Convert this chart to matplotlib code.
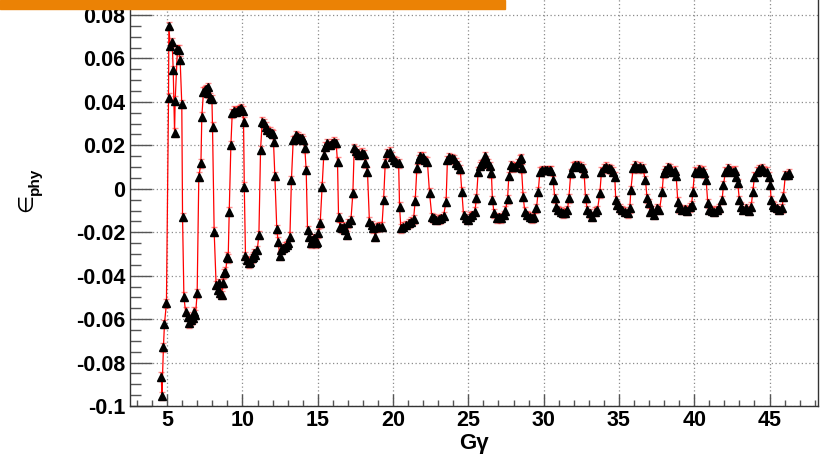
import matplotlib
matplotlib.use("Agg")
import matplotlib.pyplot as plt
from matplotlib.patches import Rectangle
from matplotlib.ticker import MultipleLocator

plt.rcParams["font.family"] = ["Liberation Sans", "DejaVu Sans"]
plt.rcParams["font.weight"] = "bold"

# G*gamma for each measurement
gg = [4.61, 4.65, 4.75, 4.82, 4.95, 5.09, 5.11, 5.20, 5.33, 5.40, 5.49, 5.53, 5.68, 5.77, 5.86, 5.97,
      6.02, 6.11, 6.22, 6.35, 6.46, 6.59, 6.72, 6.79, 6.88, 6.99,
      7.10, 7.24, 7.30, 7.41, 7.48, 7.59, 7.68, 7.74, 7.86, 7.97, 8.01,
      8.12, 8.25, 8.37, 8.45, 8.52, 8.61, 8.70, 8.78, 8.87, 9.00, 9.05, 9.12,
      9.23, 9.32, 9.45, 9.60, 9.71, 9.85, 9.93, 10.03, 10.07, 10.12,
      10.20, 10.33, 10.42, 10.51, 10.60, 10.69, 10.78, 10.86, 10.98, 11.09,
      11.20, 11.31, 11.44, 11.53, 11.66, 11.80, 11.93, 12.02, 12.06, 12.15,
      12.28, 12.37, 12.48, 12.59, 12.70, 12.81, 12.95, 13.03, 13.15,
      13.25, 13.37, 13.48, 13.58, 13.70, 13.81, 13.92, 14.03, 14.14, 14.23,
      14.32, 14.43, 14.52, 14.63, 14.76, 14.85, 14.96, 15.03, 15.16,
      15.29, 15.40, 15.51, 15.64, 15.80, 15.96, 16.09, 16.22, 16.31,
      16.38, 16.49, 16.60, 16.71, 16.82, 16.93, 17.04, 17.20,
      17.33, 17.42, 17.55, 17.66, 17.77, 17.93, 18.04, 18.15, 18.30,
      18.43, 18.59, 18.70, 18.81, 18.93, 19.08, 19.26,
      19.37, 19.48, 19.63, 19.81, 19.92, 20.03, 20.21, 20.37,
      20.43, 20.52, 20.69, 20.87, 21.03, 21.18, 21.36,
      21.47, 21.58, 21.69, 21.80, 21.98, 22.13, 22.28,
      22.42, 22.58, 22.69, 22.87, 23.02, 23.18, 23.35,
      23.52, 23.61, 23.74, 23.90, 24.06, 24.19, 24.34, 24.46,
      24.57, 24.68, 24.85, 25.00, 25.10, 25.25, 25.43,
      25.54, 25.65, 25.76, 25.87, 25.98, 26.10, 26.20, 26.31, 26.43, 26.53,
      26.60, 26.71, 26.87, 27.02, 27.20, 27.38, 27.46,
      27.60, 27.69, 27.82, 27.97, 28.13, 28.31, 28.42, 28.49, 28.53,
      28.64, 28.75, 28.92, 29.08, 29.24, 29.37, 29.52,
      29.64, 29.75, 29.90, 30.08, 30.25, 30.41, 30.52, 30.63,
      30.74, 30.85, 30.96, 31.14, 31.29, 31.45, 31.58,
      31.67, 31.80, 31.96, 32.11, 32.29, 32.47, 32.62, 32.69,
      32.78, 32.91, 33.07, 33.22, 33.40, 33.57,
      33.73, 33.84, 34.02, 34.17, 34.33, 34.50, 34.61, 34.72,
      34.79, 34.90, 35.06, 35.21, 35.39, 35.57, 35.72,
      35.79, 35.94, 36.05, 36.25, 36.40, 36.58, 36.76,
      36.87, 36.98, 37.07, 37.20, 37.36, 37.52, 37.69,
      37.87, 37.96, 38.09, 38.25, 38.40, 38.53, 38.69, 38.80,
      38.91, 39.02, 39.20, 39.36, 39.52, 39.69, 39.82,
      39.91, 40.02, 40.17, 40.31, 40.46, 40.57, 40.67, 40.79,
      40.90, 41.01, 41.19, 41.34, 41.50, 41.67, 41.85,
      41.94, 42.07, 42.23, 42.38, 42.56, 42.69, 42.78, 42.89,
      43.00, 43.11, 43.26, 43.44, 43.62, 43.78,
      43.89, 44.00, 44.16, 44.33, 44.51, 44.66, 44.82, 44.95, 45.04,
      45.11, 45.22, 45.32, 45.48, 45.65, 45.83,
      45.92, 46.05, 46.20, 46.31]

# measured epsilon_phy
eps = [-0.0865, -0.0954, -0.0730, -0.0622, -0.0527, 0.0420, 0.0750, 0.0657, 0.0674, 0.0547, 0.0258, 0.0406, 0.0642, 0.0640, 0.0593, 0.0390,
       -0.0130, -0.0497, -0.0566, -0.0589, -0.0620, -0.0605, -0.0597, -0.0566, -0.0580, -0.0481,
       0.0056, 0.0117, 0.0332, 0.0447, 0.0455, 0.0458, 0.0467, 0.0440, 0.0420, 0.0413, 0.0286,
       -0.0198, -0.0443, -0.0466, -0.0435, -0.0481, -0.0489, -0.0435, -0.0389, -0.0382, -0.0313, -0.0320, -0.0105,
       0.0202, 0.0348, 0.0360, 0.0355, 0.0363, 0.0366, 0.0370, 0.0360, 0.0309, 0.0010,
       -0.0310, -0.0328, -0.0343, -0.0336, -0.0320, -0.0313, -0.0297, -0.0305, -0.0282, -0.0213,
       0.0179, 0.0309, 0.0302, 0.0286, 0.0271, 0.0263, 0.0256, 0.0252, 0.0217, 0.0059,
       -0.0187, -0.0244, -0.0310, -0.0282, -0.0274, -0.0267, -0.0259, -0.0251, -0.0220,
       0.0041, 0.0225, 0.0228, 0.0248, 0.0240, 0.0233, 0.0233, 0.0225, 0.0186, 0.0087,
       -0.0190, -0.0220, -0.0251, -0.0236, -0.0228, -0.0251, -0.0244, -0.0205, -0.0159,
       0.0010, 0.0156, 0.0194, 0.0209, 0.0202, 0.0209, 0.0217, 0.0209, 0.0125,
       -0.0131, -0.0174, -0.0182, -0.0174, -0.0190, -0.0213, -0.0159, -0.0144,
       -0.0021, 0.0186, 0.0175, 0.0163, 0.0156, 0.0166, 0.0160, 0.0117, 0.0079,
       -0.0151, -0.0167, -0.0182, -0.0220, -0.0177, -0.0174, -0.0174,
       -0.0052, 0.0117, 0.0163, 0.0171, 0.0148, 0.0133, 0.0125, 0.0117,
       -0.0082, -0.0182, -0.0174, -0.0167, -0.0159, -0.0151, -0.0140,
       -0.0055, 0.0094, 0.0136, 0.0151, 0.0148, 0.0133, 0.0125,
       -0.0018, -0.0131, -0.0136, -0.0144, -0.0140, -0.0136, -0.0125,
       -0.0059, 0.0133, 0.0145, 0.0140, 0.0136, 0.0120, 0.0110, 0.0090,
       -0.0013, -0.0121, -0.0136, -0.0144, -0.0128, -0.0121, -0.0105,
       -0.0044, 0.0079, 0.0105, 0.0114, 0.0117, 0.0151, 0.0133, 0.0117, 0.0105, 0.0071,
       -0.0052, -0.0113, -0.0136, -0.0131, -0.0136, -0.0121, -0.0101,
       -0.0048, 0.0059, 0.0110, 0.0099, 0.0102, 0.0117, 0.0136, 0.0140, 0.0094,
       -0.0036, -0.0105, -0.0121, -0.0128, -0.0136, -0.0131, -0.0090,
       -0.0013, 0.0079, 0.0087, 0.0087, 0.0087, 0.0087, 0.0083, 0.0041,
       -0.0044, -0.0082, -0.0098, -0.0105, -0.0113, -0.0110, -0.0098,
       -0.0044, 0.0071, 0.0102, 0.0110, 0.0110, 0.0102, 0.0094, 0.0071,
       -0.0044, -0.0098, -0.0113, -0.0128, -0.0105, -0.0098,
       -0.0021, 0.0079, 0.0094, 0.0102, 0.0094, 0.0090, 0.0079, 0.0056,
       -0.0052, -0.0075, -0.0090, -0.0098, -0.0105, -0.0113, -0.0090,
       -0.0006, 0.0094, 0.0110, 0.0094, 0.0102, 0.0094, 0.0041,
       -0.0044, -0.0067, -0.0105, -0.0098, -0.0121, -0.0090, -0.0098,
       -0.0013, 0.0071, 0.0087, 0.0099, 0.0094, 0.0079, 0.0083, 0.0059,
       -0.0059, -0.0090, -0.0098, -0.0094, -0.0101, -0.0085, -0.0075,
       -0.0013, 0.0079, 0.0074, 0.0090, 0.0079, 0.0083, 0.0071, 0.0041,
       -0.0067, -0.0098, -0.0101, -0.0105, -0.0098, -0.0090, -0.0052,
       0.0017, 0.0079, 0.0094, 0.0087, 0.0079, 0.0083, 0.0056, 0.0025,
       -0.0052, -0.0082, -0.0098, -0.0090, -0.0101, -0.0082,
       -0.0013, 0.0056, 0.0079, 0.0090, 0.0094, 0.0083, 0.0079, 0.0056, 0.0017,
       -0.0052, -0.0075, -0.0082, -0.0090, -0.0098, -0.0090,
       -0.0036, 0.0064, 0.0064, 0.0071]

eps_err = 0.002

fig = plt.figure(figsize=(8.23, 4.54), dpi=100)
ax = fig.add_axes([0.1574, 0.1057, 0.8371, 0.9091])

ax.errorbar(gg, eps, yerr=eps_err, fmt="none", ecolor=(1, 0, 0, 0.45),
            elinewidth=1.4, capsize=2.5, capthick=1.0, zorder=2)
ax.plot(gg, eps, color="red", lw=0.9, zorder=3)
ax.plot(gg, eps, ls="none", marker="^", ms=5.2, color="black", zorder=4)

ax.set_xlim(2.5, 48.25)
ax.set_ylim(-0.1, 0.09)

ax.xaxis.set_major_locator(MultipleLocator(5))
ax.xaxis.set_minor_locator(MultipleLocator(1))
ax.yaxis.set_major_locator(MultipleLocator(0.02))
ax.yaxis.set_minor_locator(MultipleLocator(0.005))
ax.set_yticks([-0.1, -0.08, -0.06, -0.04, -0.02, 0, 0.02, 0.04, 0.06, 0.08])
ax.set_yticklabels(["-0.1", "-0.08", "-0.06", "-0.04", "-0.02", "0", "0.02", "0.04", "0.06", "0.08"])

ax.tick_params(axis="both", which="both", direction="in", color="#555555",
               labelsize=15.5, width=1.0)
ax.tick_params(axis="x", which="major", length=8.6, pad=3)
ax.tick_params(axis="x", which="minor", length=4.3)
ax.tick_params(axis="y", which="major", length=15.8, pad=3)
ax.tick_params(axis="y", which="minor", length=7.9)
ax.tick_params(top=False, right=False, which="both")
for lab in ax.get_xticklabels() + ax.get_yticklabels():
    lab.set_fontweight("bold")

ax.grid(True, which="major", color="#8c8c8c", ls=(0, (1, 2)), lw=0.9)
ax.set_axisbelow(True)
for s in ax.spines.values():
    s.set_color("#333333")
    s.set_linewidth(1.0)

fig.text(474 / 823, 1 - 443 / 454, "G\u03b3", ha="center", va="center",
         fontsize=16, fontweight="bold")
# y title: element-of sign with a small "phy" subscript, rotated
fig.text(26 / 823, 1 - 203 / 454, "\u2208", ha="center", va="center",
         rotation=90, fontsize=15, fontweight="normal", family="DejaVu Sans")
fig.text(35 / 823, 1 - 181 / 454, "phy", ha="center", va="center",
         rotation=90, fontsize=11, fontweight="bold")

fig.add_artist(Rectangle((0, 1 - 9 / 454), 505 / 823, 9 / 454,
                         transform=fig.transFigure, color="#eb8205", zorder=10))

fig.savefig("out.png", dpi=100)
